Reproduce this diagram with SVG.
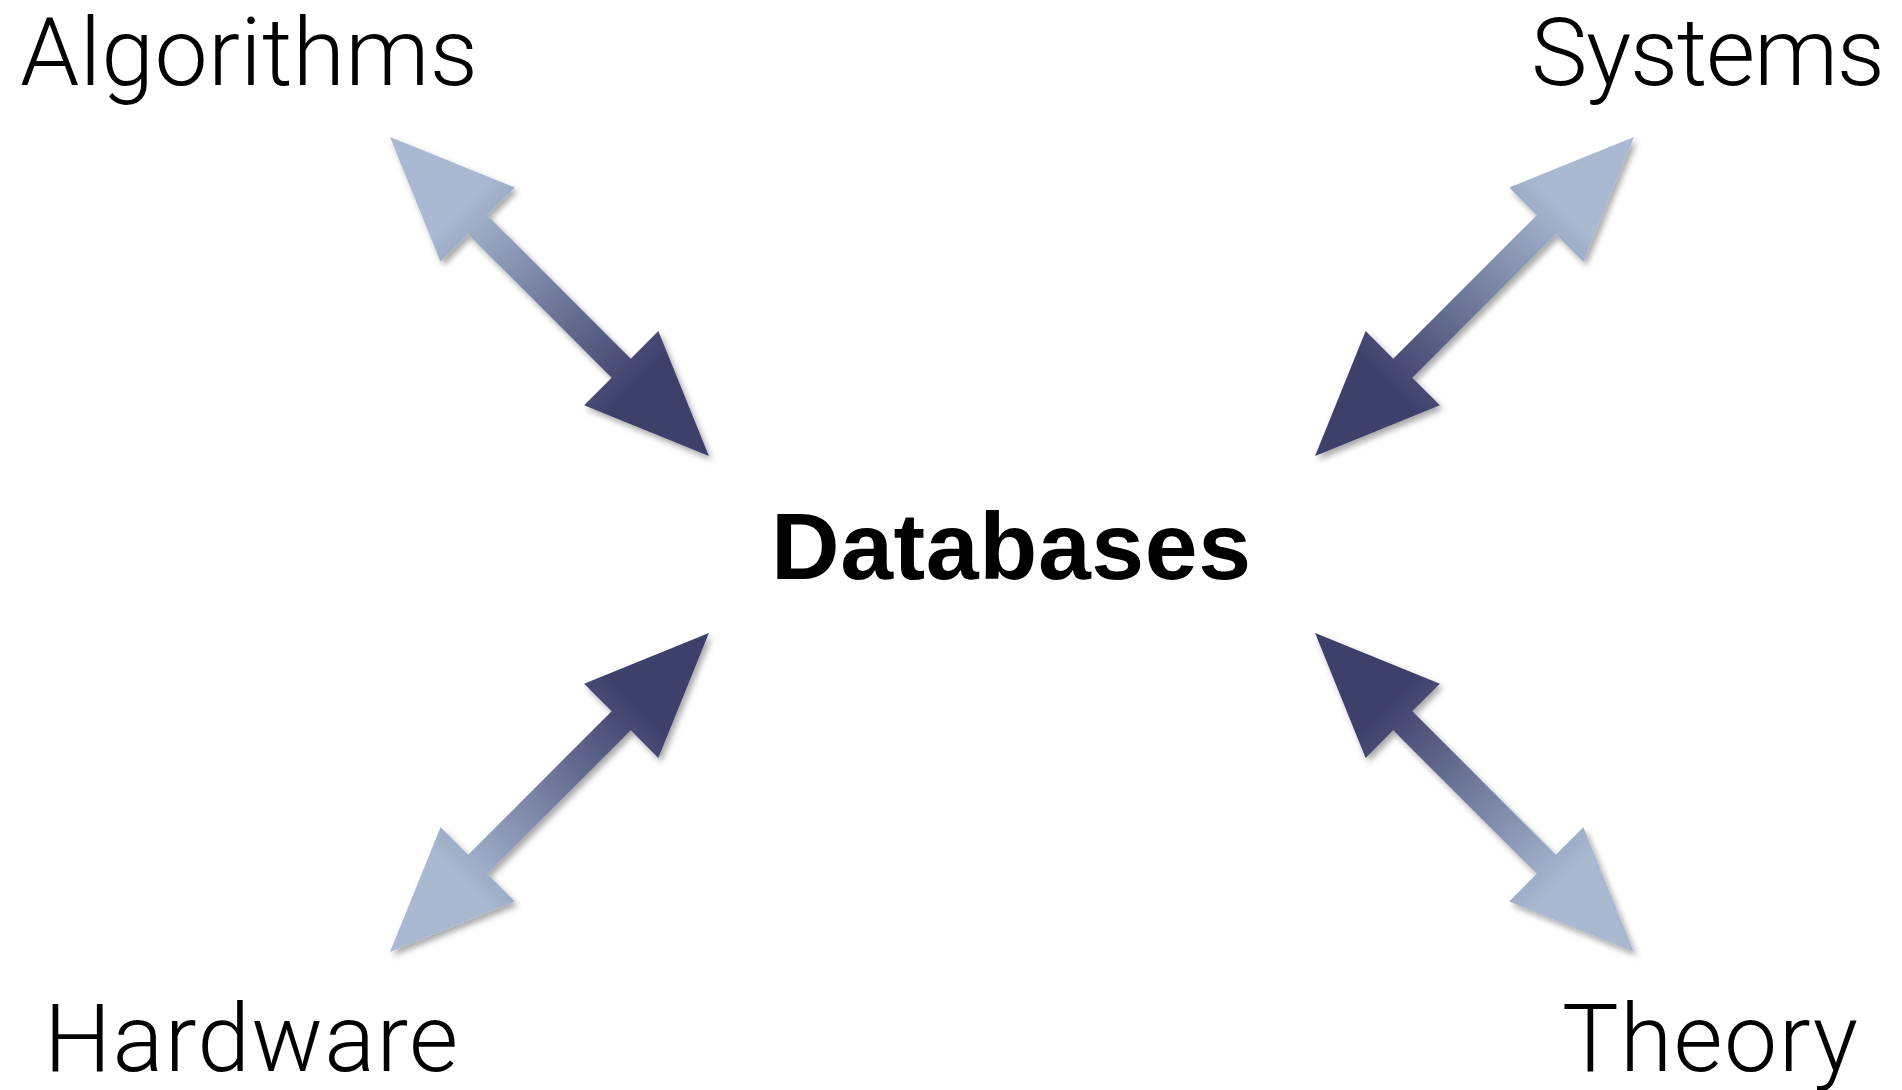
<svg xmlns="http://www.w3.org/2000/svg" width="1902" height="1090" viewBox="0 0 1902 1090">
  <style>
    .lbl { font-family: Roboto, "Open Sans", "Liberation Sans", sans-serif; font-weight: 300; font-size: 95px; fill: #000; }
    .center { font-family: "Liberation Sans", Arial, sans-serif; font-weight: 700; font-size: 95px; fill: #000; }
  </style>
  <defs>
    <linearGradient id="grad" gradientUnits="userSpaceOnUse" x1="0" y1="0" x2="451" y2="0">
      <stop offset="0.22" stop-color="#A8B9D1"/>
      <stop offset="0.78" stop-color="#3D3F6B"/>
    </linearGradient>
    <filter id="shadow" x="-20%" y="-20%" width="140%" height="140%">
      <feDropShadow dx="3" dy="4" stdDeviation="3" flood-color="#000" flood-opacity="0.35"/>
    </filter>
    <polygon id="dblArrow" points="0,0 124,-52.5 124,-13.5 327,-13.5 327,-52.5 451,0 327,52.5 327,13.5 124,13.5 124,52.5" fill="url(#grad)"/>
  </defs>
  <rect width="1902" height="1090" fill="#fff"/>

  <g id="connectors">
    <g id="arrow-algorithms" filter="url(#shadow)"><use href="#dblArrow" transform="translate(390,137) rotate(45)"/></g>
    <g id="arrow-systems" filter="url(#shadow)"><use href="#dblArrow" transform="translate(1634,137) rotate(135)"/></g>
    <g id="arrow-hardware" filter="url(#shadow)"><use href="#dblArrow" transform="translate(390,952) rotate(-45)"/></g>
    <g id="arrow-theory" filter="url(#shadow)"><use href="#dblArrow" transform="translate(1634,952) rotate(-135)"/></g>
  </g>

  <g id="node-algorithms"><text class="lbl" x="20" y="85" textLength="458">Algorithms</text></g>
  <g id="node-systems"><text class="lbl" x="1531" y="85" textLength="354">Systems</text></g>
  <g id="node-databases"><text class="center" x="771" y="579" textLength="480">Databases</text></g>
  <g id="node-hardware"><text class="lbl" x="44" y="1071" textLength="414">Hardware</text></g>
  <g id="node-theory"><text class="lbl" x="1562" y="1071" textLength="296">Theory</text></g>
</svg>
